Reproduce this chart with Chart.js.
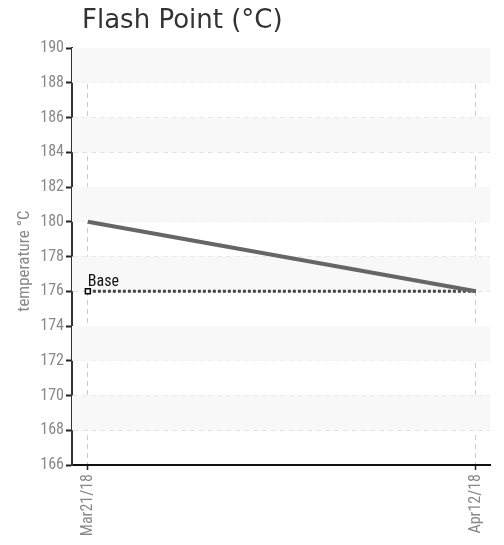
<!DOCTYPE html>
<html>
<head>
<meta charset="utf-8">
<script src="https://cdn.jsdelivr.net/npm/chart.js@4"></script>
<style>
  html, body { margin: 0; padding: 0; background: #fff; }
  #wrap { width: 504px; height: 545px; }
</style>
</head>
<body>
<div id="wrap"><canvas id="flashChart"></canvas></div>
<script>
const dateLabels = ["Mar21/18", "Apr12/18"];
const dayOffsets = [0, 22];
const flashPoint = [180, 176];
const baseValues = [176, 176];
const yTicks = [166, 168, 170, 172, 174, 176, 178, 180, 182, 184, 186, 188, 190];

const narrow = "'Roboto Condensed', 'Liberation Sans Narrow', sans-serif";
const ctx = document.getElementById("flashChart").getContext("2d");

// alternate light bands between y grid lines
const bandsPlugin = {
  id: "bands",
  beforeDatasetsDraw(chart) {
    const { ctx, chartArea, scales } = chart;
    ctx.save();
    ctx.fillStyle = "#f8f8f8";
    for (let i = 1; i < yTicks.length - 1; i += 2) {
      const top = scales.y.getPixelForValue(yTicks[i + 1]);
      const bottom = scales.y.getPixelForValue(yTicks[i]);
      ctx.fillRect(chartArea.left, top, chartArea.right - chartArea.left, bottom - top);
    }
    ctx.restore();
  }
};

const textPlugin = {
  id: "texts",
  afterDraw(chart) {
    const { ctx } = chart;
    ctx.save();
    ctx.fillStyle = "#333";
    ctx.font = "26px 'DejaVu Sans', sans-serif";
    ctx.textBaseline = "alphabetic";
    ctx.fillText("Flash Point (°C)", 82, 28);

    // base label over the first point
    const pt = chart.getDatasetMeta(1).data[0];
    ctx.fillStyle = "#111";
    ctx.font = "16px " + narrow;
    ctx.fillText("Base", pt.x, pt.y - 5);

    // y axis title
    ctx.translate(29, 261);
    ctx.rotate(-Math.PI / 2);
    ctx.fillStyle = "#888";
    ctx.font = "17px " + narrow;
    ctx.textAlign = "center";
    ctx.fillText("temperature °C", 0, 0);
    ctx.restore();
  }
};

const chart = new Chart(ctx, {
  type: "line",
  data: {
    datasets: [
      {
        label: "Flash Point",
        data: dayOffsets.map((d, i) => ({ x: d, y: flashPoint[i] })),
        borderColor: "#666",
        borderWidth: 4,
        pointRadius: 0,
        tension: 0
      },
      {
        label: "Base",
        data: dayOffsets.map((d, i) => ({ x: d, y: baseValues[i] })),
        borderColor: "#444",
        borderWidth: 3,
        borderDash: [3, 2],
        pointRadius: [3.5, 0],
        pointStyle: "rect",
        pointBackgroundColor: "#fff",
        pointBorderColor: "#000",
        pointBorderWidth: 1.5,
        tension: 0
      }
    ]
  },
  options: {
    responsive: true,
    maintainAspectRatio: false,
    animation: false,
    layout: { padding: { top: 48, right: 14, left: 0, bottom: 0 } },
    plugins: {
      legend: { display: false },
      tooltip: { enabled: false }
    },
    scales: {
      x: {
        type: "linear",
        min: -0.9,
        max: 22.8,
        afterBuildTicks(scale) {
          scale.ticks = dayOffsets.map(v => ({ value: v }));
        },
        afterFit(scale) { scale.height = 80; },
        ticks: {
          autoSkip: false,
          minRotation: 90,
          maxRotation: 90,
          color: "#888",
          font: { family: narrow, size: 16 },
          padding: 4,
          callback: (v) => dateLabels[dayOffsets.indexOf(v)]
        },
        grid: {
          color: "#ccc",
          tickColor: "#222",
          tickLength: 5,
          tickWidth: 1.5
        },
        border: { color: "#111", width: 2, dash: [5, 4] }
      },
      y: {
        min: 166,
        max: 190,
        afterBuildTicks(scale) {
          scale.ticks = yTicks.map(v => ({ value: v }));
        },
        afterFit(scale) { scale.width = 72; },
        ticks: {
          color: "#888",
          font: { family: narrow, size: 16 },
          padding: 2
        },
        grid: {
          color: "#ddd",
          tickColor: "#222",
          tickLength: 6,
          tickWidth: 2
        },
        border: { color: "#333", width: 2, dash: [5, 4] }
      }
    }
  },
  plugins: [bandsPlugin, textPlugin]
});
</script>
</body>
</html>
